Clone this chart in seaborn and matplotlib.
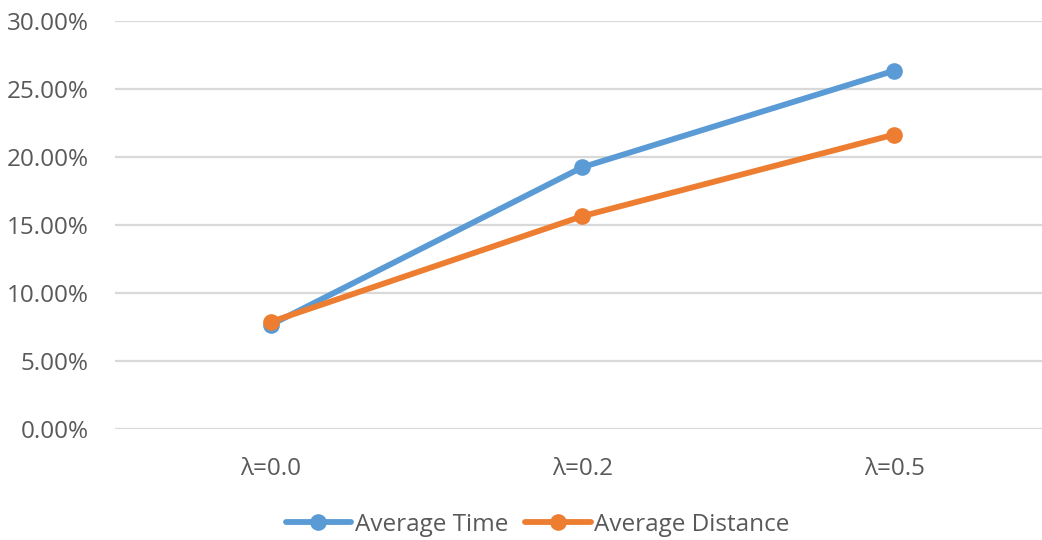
import pandas as pd
import matplotlib
matplotlib.use('Agg')
import matplotlib.pyplot as plt
import seaborn as sns
from matplotlib.ticker import PercentFormatter

# Data
categories = ['λ=0.0', 'λ=0.2', 'λ=0.5']
avg_time = [0.0765, 0.1925, 0.2635]
avg_distance = [0.0787, 0.1565, 0.2165]
series = ['Average Time', 'Average Distance']

df = pd.DataFrame({
    'lambda': categories * 2,
    'value': avg_time + avg_distance,
    'series': [series[0]] * 3 + [series[1]] * 3,
})

sns.set_style('white')
plt.rcParams['font.family'] = ['Open Sans', 'DejaVu Sans']

fig = plt.figure(figsize=(10.42, 5.40), dpi=100)
ax = fig.add_axes([0.110, 0.2056, 0.898, 0.7555])

sns.lineplot(data=df, x='lambda', y='value', hue='series',
             palette=['#5B9BD5', '#ED7D31'], marker='o', markersize=12,
             markeredgewidth=0, linewidth=4.2, ax=ax, legend=True)

ax.set_xlim(-0.5, 2.5)
ax.set_ylim(0, 0.30)
ax.set_yticks([0, 0.05, 0.10, 0.15, 0.20, 0.25, 0.30])
ax.yaxis.set_major_formatter(PercentFormatter(1.0, decimals=2))
ax.grid(axis='y', color='#D9D9D9', linewidth=1.6)
ax.set_axisbelow(True)
for s in ax.spines.values():
    s.set_visible(False)
ax.set_xlabel('')
ax.set_ylabel('')
ax.tick_params(axis='both', length=0, labelsize=17.5, labelcolor='#595959')
ax.tick_params(axis='y', pad=18.5)
ax.tick_params(axis='x', pad=20)

handles, labels = ax.get_legend_handles_labels()
ax.get_legend().remove()
fig.legend(handles, labels, loc='center', bbox_to_anchor=(0.516, 0.028), ncol=2,
           frameon=False, fontsize=17.5, labelcolor='#595959', handlelength=2.7,
           handletextpad=0.15, columnspacing=0.7)

fig.savefig('out.png', dpi=100)
